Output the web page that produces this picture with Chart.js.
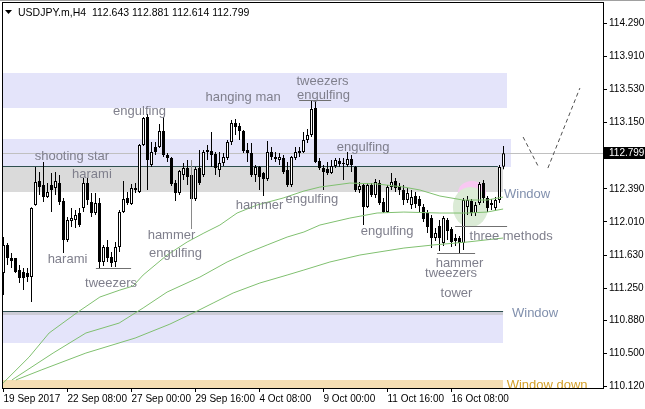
<!DOCTYPE html>
<html>
<head>
<meta charset="utf-8">
<script src="https://cdn.jsdelivr.net/npm/chart.js@4.4.1/dist/chart.umd.min.js"></script>
<style>
  html, body { margin: 0; padding: 0; background: #fff; }
  #wrap { width: 645px; height: 409px; }
</style>
</head>
<body>
<div id="wrap"><canvas id="chart" width="645" height="409"></canvas></div>
<script>
// USDJPY.m, H4 — one entry per bar, oldest first
const SYMBOL = 'USDJPY.m';
const PERIOD = 'H4';

const opens = [
  111.424, 111.746, 111.596, 111.596, 111.459, 111.436, 111.424, 111.378, 112.205, 112.480,
  112.434, 112.296, 112.434, 112.400, 112.457, 112.251, 111.803, 112.021, 112.033, 112.113,
  112.170, 112.457, 112.239, 112.113, 112.228, 111.551, 111.723, 111.608, 111.551, 111.723,
  112.124, 112.285, 112.216, 112.377, 112.354, 112.893, 113.214, 112.664, 112.870, 112.870,
  113.054, 112.778, 112.744, 112.457, 112.342, 112.549, 112.629, 112.549, 112.273, 112.629,
  112.549, 112.813, 112.824, 112.790, 112.606, 112.687, 112.744, 112.928, 113.145, 113.111,
  113.054, 112.836, 112.801, 112.549, 112.641, 112.572, 112.503, 112.813, 112.732, 112.721,
  112.744, 112.606, 112.434, 112.744, 112.824, 112.813, 112.951, 113.008, 113.318, 112.710,
  112.629, 112.618, 112.572, 112.652, 112.710, 112.675, 112.664, 112.732, 112.641, 112.377,
  112.434, 112.182, 112.434, 112.319, 112.457, 112.239, 112.124, 112.411, 112.480, 112.423,
  112.377, 112.262, 112.205, 112.308, 112.273, 112.182, 112.113, 112.055, 111.826, 111.964,
  111.769, 112.033, 111.929, 111.826, 111.826, 111.769, 112.182, 112.251, 112.113, 112.228,
  112.457, 112.285, 112.205, 112.170, 112.262, 112.643
];
const highs = [
  111.837, 111.769, 111.654, 111.596, 111.516, 111.482, 111.482, 112.180, 112.641, 112.583,
  112.698, 112.457, 112.572, 112.583, 112.549, 112.285, 112.067, 112.170, 112.147, 112.170,
  112.514, 112.514, 112.342, 112.342, 112.285, 111.746, 111.803, 111.665, 111.780, 112.147,
  112.480, 112.354, 112.446, 112.457, 112.905, 113.214, 113.249, 112.928, 112.928, 113.134,
  113.214, 112.801, 112.755, 112.492, 112.606, 112.687, 112.721, 112.664, 112.641, 112.836,
  112.836, 112.893, 113.042, 112.813, 112.813, 112.801, 112.951, 113.180, 113.191, 113.145,
  113.065, 112.916, 112.916, 112.664, 112.652, 112.583, 112.939, 112.870, 112.813, 112.801,
  112.778, 112.698, 112.767, 112.870, 112.870, 113.042, 113.077, 113.410, 113.410, 112.744,
  112.664, 112.698, 112.721, 112.744, 112.744, 112.744, 112.813, 112.778, 112.652, 112.469,
  112.446, 112.457, 112.457, 112.503, 112.492, 112.285, 112.434, 112.572, 112.514, 112.457,
  112.434, 112.400, 112.377, 112.354, 112.308, 112.216, 112.147, 112.090, 111.941, 112.033,
  112.078, 112.055, 111.952, 111.872, 111.849, 112.285, 112.308, 112.273, 112.239, 112.469,
  112.492, 112.308, 112.273, 112.296, 112.664, 112.881
];
const lows = [
  111.172, 111.516, 111.482, 111.424, 111.310, 111.229, 111.321, 111.092, 112.195, 112.319,
  112.239, 112.285, 112.124, 112.319, 112.205, 111.654, 111.780, 111.952, 111.941, 111.952,
  112.124, 112.205, 112.067, 112.090, 111.482, 111.505, 111.551, 111.493, 111.493, 111.665,
  112.113, 112.205, 112.205, 112.342, 112.342, 112.882, 112.377, 112.641, 112.778, 112.859,
  112.755, 112.698, 112.423, 112.251, 112.319, 112.492, 112.434, 112.147, 112.251, 112.434,
  112.526, 112.721, 112.641, 112.549, 112.526, 112.652, 112.721, 112.893, 113.008, 112.951,
  112.801, 112.698, 112.526, 112.469, 112.377, 112.308, 112.480, 112.721, 112.698, 112.664,
  112.560, 112.411, 112.411, 112.721, 112.755, 112.801, 112.916, 112.985, 112.687, 112.606,
  112.377, 112.549, 112.560, 112.629, 112.641, 112.492, 112.641, 112.583, 112.354, 112.342,
  111.975, 112.170, 112.296, 112.285, 112.205, 112.113, 112.113, 112.377, 112.354, 112.319,
  112.205, 112.228, 112.159, 112.170, 112.124, 112.010, 111.883, 111.711, 111.792, 111.677,
  111.734, 111.803, 111.723, 111.734, 111.654, 111.688, 112.090, 112.078, 112.078, 112.205,
  112.228, 112.124, 112.147, 112.136, 112.228, 112.614
];
const closes = [
  111.746, 111.596, 111.562, 111.436, 111.367, 111.367, 111.378, 112.170, 112.469, 112.411,
  112.296, 112.354, 112.377, 112.480, 112.239, 111.803, 112.033, 112.055, 112.090, 111.975,
  112.457, 112.262, 112.113, 112.228, 111.551, 111.723, 111.596, 111.539, 111.723, 112.124,
  112.273, 112.228, 112.400, 112.400, 112.893, 113.203, 112.721, 112.813, 112.813, 113.054,
  112.778, 112.744, 112.446, 112.342, 112.595, 112.629, 112.526, 112.273, 112.618, 112.457,
  112.813, 112.836, 112.778, 112.629, 112.687, 112.755, 112.928, 113.145, 113.100, 113.054,
  112.824, 112.801, 112.549, 112.641, 112.526, 112.503, 112.813, 112.755, 112.755, 112.755,
  112.583, 112.434, 112.755, 112.813, 112.801, 112.951, 113.008, 113.306, 112.698, 112.629,
  112.583, 112.572, 112.652, 112.721, 112.675, 112.687, 112.732, 112.664, 112.377, 112.423,
  112.182, 112.434, 112.319, 112.469, 112.228, 112.124, 112.411, 112.469, 112.400, 112.377,
  112.262, 112.342, 112.296, 112.216, 112.193, 112.044, 111.952, 111.826, 111.883, 111.826,
  112.055, 111.906, 111.780, 111.792, 111.769, 112.262, 112.262, 112.113, 112.205, 112.446,
  112.285, 112.170, 112.228, 112.262, 112.641, 112.799
];

// time axis: label text and the bar it sits on
const timeLabels = ['19 Sep 2017', '22 Sep 08:00', '27 Sep 00:00', '29 Sep 16:00',
  '4 Oct 08:00', '9 Oct 00:00', '11 Oct 16:00', '16 Oct 08:00'];
const timeLabelBars = [0, 16, 32, 48, 64, 80, 96, 112];

// price axis labels
const priceTicks = [110.12, 110.5, 110.88, 111.25, 111.63, 112.01, 112.39,
  113.15, 113.53, 113.91, 114.29];

// three moving averages (bar, price)
const maFastBars = [-0.1, 6.4, 11.4, 18.6, 24.1, 29.1, 32.4, 34.9, 40.9, 45.9, 50.1, 54.1,
  58.4, 63.4, 69.9, 75.1, 79.1, 86.6, 93.4, 100.1, 104.1, 109.1, 114.9, 120.9, 124.9];
const maFast = [110.162, 110.460, 110.736, 110.977, 111.149, 111.229, 111.275, 111.401,
  111.631, 111.780, 111.883, 111.975, 112.113, 112.205, 112.285, 112.365, 112.411, 112.457,
  112.446, 112.411, 112.377, 112.308, 112.262, 112.262, 112.296];
const maMidBars = [2.1, 12.4, 20.6, 28.9, 34.9, 40.9, 49.1, 55.9, 60.9, 65.9, 70.9, 75.1,
  79.1, 86.6, 93.4, 100.1, 109.1, 115.9, 120.9, 124.9];
const maMid = [110.197, 110.506, 110.736, 110.850, 111.023, 111.206, 111.378, 111.551,
  111.654, 111.746, 111.837, 111.895, 111.975, 112.055, 112.113, 112.124, 112.113, 112.113,
  112.124, 112.159];
const maSlowBars = [3.1, 9.4, 20.6, 32.9, 41.6, 48.4, 52.4, 57.4, 64.1, 70.9, 75.1, 81.6,
  89.1, 100.1, 107.4, 115.9, 124.9];
const maSlow = [110.197, 110.311, 110.506, 110.678, 110.838, 110.988, 111.080, 111.195,
  111.310, 111.401, 111.459, 111.551, 111.631, 111.711, 111.746, 111.780, 111.826];

// dashed projection in the chart-shift area
const projDownBars = [129.9, 133.9];
const projDown = [112.985, 112.629];
const projUpBars = [136.1, 144.1];
const projUp = [112.629, 113.547];

// rectangles and levels drawn on the chart (bars from/to, prices low/high)
const zones = [
  { kind: 'wheat',    from: -2, to: 124.9, low: 110.0,   high: 110.196 },
  { kind: 'lavender', from: -2, to: 124.9, low: 110.621, high: 110.943 },
  { kind: 'band',     from: -2, to: 124.9, low: 110.943, high: 110.975 },
  { kind: 'lavender', from: -2, to: 125.9, low: 113.321, high: 113.719 },
  { kind: 'lavender', from: -2, to: 126.9, low: 112.641, high: 112.962 },
  { kind: 'gray',     from: -2, to: 124.9, low: 112.357, high: 112.646 },
];
const levels = [
  { from: -2, to: 123.6, price: 112.658 },
  { from: -2, to: 124.9, price: 110.987 },
];
const ellipses = [
  { kind: 'pink',  bar: 117.1,  price: 112.342, rBars: 3.5, rPrice: 0.138 },
  { kind: 'green', bar: 116.75, price: 112.182, rBars: 4.4, rPrice: 0.23 },
];

// candlestick pattern labels
const patternLabels = [
  { text: 'shooting star', bar: 17.1,  price: 112.778 },
  { text: 'harami',        bar: 22.1,  price: 112.572 },
  { text: 'harami',        bar: 16.0,  price: 111.596 },
  { text: 'tweezers',      bar: 26.9,  price: 111.321 },
  { text: 'engulfing',     bar: 34.0,  price: 113.295 },
  { text: 'hammer',        bar: 42.0,  price: 111.872 },
  { text: 'engulfing',     bar: 43.0,  price: 111.665 },
  { text: 'hanging man',   bar: 59.9,  price: 113.455 },
  { text: 'tweezers',      bar: 79.75, price: 113.633 },
  { text: 'engulfing',     bar: 80.0,  price: 113.478 },
  { text: 'engulfing',     bar: 89.9,  price: 112.876 },
  { text: 'hammer',        bar: 64.0,  price: 112.210 },
  { text: 'engulfing',     bar: 77.1,  price: 112.279 },
  { text: 'engulfing',     bar: 95.9,  price: 111.918 },
  { text: 'hammer',        bar: 114.0, price: 111.551 },
  { text: 'tweezers',      bar: 111.9, price: 111.436 },
  { text: 'tower',         bar: 113.25, price: 111.201 },
  { text: 'three methods', bar: 126.9, price: 111.855 },
];
const windowLabels = [
  { text: 'Window',      bar: 130.9, price: 112.337, kind: 'window' },
  { text: 'Window',      bar: 132.9, price: 110.971, kind: 'window' },
  { text: 'Window down', bar: 135.9, price: 110.150, kind: 'down' },
];
// pattern marker lines: horizontal (bars from/to at price) and one vertical
const markerLines = [
  { from: 23.1,  to: 31.9,  price: 111.478 },
  { from: 73.9,  to: 81.9,  price: 113.406 },
  { from: 108.4, to: 117.9, price: 111.654 },
  { from: 112.9, to: 125.9, price: 111.964 },
];
const markerVertical = { bar: 46.9, from: 111.929, to: 112.721 };

// ---------- styles ----------
const GREEN = 'rgb(128,192,112)';
const ZONE_COLOR = {
  lavender: 'rgb(228,228,250)',
  gray: 'rgb(218,218,218)',
  band: 'rgb(204,204,214)',
  wheat: 'rgb(245,222,179)',
};
const ELLIPSE_COLOR = { pink: 'rgb(248,200,242)', green: 'rgb(219,235,214)' };
const TEXT_COLOR = { pattern: '#7f7f8c', window: '#8190ad', down: '#d4a02a' };
const FONT = '"Liberation Sans", Arial, sans-serif';

const bars = opens.map((_, i) => i);
const last = bars.length - 1;

const overlay = {
  id: 'overlay',
  beforeDatasetsDraw(chart) {
    const { ctx, chartArea: a, scales: { x, y } } = chart;
    ctx.save();
    ctx.beginPath();
    ctx.rect(a.left, a.top, a.right - a.left, a.bottom - a.top);
    ctx.clip();

    for (const z of zones) {
      const x0 = Math.round(x.getPixelForValue(z.from));
      const x1 = Math.round(x.getPixelForValue(z.to));
      const y0 = Math.round(y.getPixelForValue(z.high));
      const y1 = Math.round(y.getPixelForValue(z.low));
      ctx.fillStyle = ZONE_COLOR[z.kind];
      ctx.fillRect(x0, y0, x1 - x0, y1 - y0);
    }

    for (const e of ellipses) {
      const cx = x.getPixelForValue(e.bar);
      const cy = y.getPixelForValue(e.price);
      const rx = Math.abs(x.getPixelForValue(e.bar + e.rBars) - cx);
      const ry = Math.abs(y.getPixelForValue(e.price + e.rPrice) - cy);
      ctx.fillStyle = ELLIPSE_COLOR[e.kind];
      ctx.beginPath();
      ctx.ellipse(cx, cy, rx, ry, 0, 0, Math.PI * 2);
      ctx.fill();
    }

    // bid line
    const by = Math.round(y.getPixelForValue(closes[last])) + 0.5;
    ctx.strokeStyle = '#c0c0c0';
    ctx.lineWidth = 1;
    ctx.beginPath();
    ctx.moveTo(a.left, by);
    ctx.lineTo(a.right, by);
    ctx.stroke();

    ctx.strokeStyle = 'rgb(47,79,79)';
    for (const l of levels) {
      const ly = Math.round(y.getPixelForValue(l.price)) + 0.5;
      ctx.beginPath();
      ctx.moveTo(x.getPixelForValue(l.from), ly);
      ctx.lineTo(x.getPixelForValue(l.to), ly);
      ctx.stroke();
    }
    ctx.restore();
  },
  afterDatasetsDraw(chart) {
    const { ctx, scales: { x, y } } = chart;
    ctx.save();
    ctx.strokeStyle = '#707070';
    ctx.lineWidth = 1;
    for (const m of markerLines) {
      const my = Math.round(y.getPixelForValue(m.price)) + 0.5;
      ctx.beginPath();
      ctx.moveTo(x.getPixelForValue(m.from), my);
      ctx.lineTo(x.getPixelForValue(m.to), my);
      ctx.stroke();
    }
    const vx = Math.round(x.getPixelForValue(markerVertical.bar)) + 0.5;
    ctx.strokeStyle = '#8a8a8a';
    ctx.beginPath();
    ctx.moveTo(vx, y.getPixelForValue(markerVertical.to));
    ctx.lineTo(vx, y.getPixelForValue(markerVertical.from));
    ctx.stroke();

    ctx.font = '13px ' + FONT;
    ctx.textAlign = 'center';
    ctx.textBaseline = 'middle';
    ctx.fillStyle = TEXT_COLOR.pattern;
    for (const t of patternLabels) {
      ctx.fillText(t.text, x.getPixelForValue(t.bar), y.getPixelForValue(t.price) + 1);
    }
    for (const t of windowLabels) {
      ctx.fillStyle = TEXT_COLOR[t.kind];
      ctx.fillText(t.text, x.getPixelForValue(t.bar), y.getPixelForValue(t.price) + 1);
    }
    ctx.restore();
  },
  afterDraw(chart) {
    const { ctx, chartArea: a, scales: { y } } = chart;
    ctx.save();
    // window edge and chart frame
    ctx.fillStyle = '#a0a0a0';
    ctx.fillRect(0, 0, chart.width, 1);
    ctx.strokeStyle = '#000';
    ctx.lineWidth = 1;
    ctx.strokeRect(a.left - 0.5, a.top - 0.5, a.right - a.left + 1, a.bottom - a.top + 1);

    // current price tag
    const py = Math.round(y.getPixelForValue(closes[last]));
    ctx.fillStyle = '#000';
    ctx.fillRect(a.right + 1, py - 6, chart.width - a.right - 1, 12);
    ctx.fillStyle = '#fff';
    ctx.font = '10px ' + FONT;
    ctx.textBaseline = 'middle';
    ctx.textAlign = 'left';
    ctx.fillText(closes[last].toFixed(3), a.right + 6, py + 0.5);

    // title
    ctx.fillStyle = '#000';
    ctx.beginPath();
    ctx.moveTo(5, 10);
    ctx.lineTo(12, 10);
    ctx.lineTo(8.5, 14);
    ctx.closePath();
    ctx.fill();
    ctx.font = '10.5px ' + FONT;
    ctx.textBaseline = 'alphabetic';
    const ohlc = [opens[last], highs[last], lows[last], closes[last]].map((v) => v.toFixed(3)).join(' ');
    ctx.fillText(`${SYMBOL},${PERIOD}  ${ohlc}`, 18, 15.5);
    ctx.restore();
  },
};

function points(xs, ys) {
  return xs.map((b, k) => ({ x: b, y: ys[k] }));
}

function lineSet(data, color, dash) {
  return {
    type: 'line',
    data,
    borderColor: color,
    borderWidth: 1,
    borderDash: dash || [],
    pointRadius: 0,
    tension: 0,
    fill: false,
    order: 1,
  };
}

new Chart(document.getElementById('chart'), {
  type: 'bar',
  data: {
    datasets: [
      {
        data: bars.map((i) => ({ x: i, y: [opens[i], closes[i]] })),
        backgroundColor: bars.map((i) => (closes[i] >= opens[i] ? '#ffffff' : '#000000')),
        borderColor: '#000',
        borderWidth: 1,
        borderSkipped: false,
        inflateAmount: 0,
        grouped: false,
        categoryPercentage: 1,
        barPercentage: 0.75,
        order: 2,
      },
      {
        data: bars.map((i) => ({ x: i, y: [lows[i], highs[i]] })),
        backgroundColor: '#000',
        borderWidth: 0,
        inflateAmount: 0,
        grouped: false,
        categoryPercentage: 1,
        barPercentage: 0.25,
        order: 3,
      },
      lineSet(points(maFastBars, maFast), GREEN),
      lineSet(points(maMidBars, maMid), GREEN),
      lineSet(points(maSlowBars, maSlow), GREEN),
      lineSet(points(projDownBars, projDown), '#505050', [4, 3]),
      lineSet(points(projUpBars, projUp), '#505050', [4, 3]),
    ],
  },
  options: {
    responsive: false,
    animation: false,
    events: [],
    layout: { padding: { left: 3, top: 3, right: 0, bottom: 0 } },
    plugins: { legend: { display: false }, tooltip: { enabled: false } },
    scales: {
      x: {
        type: 'linear',
        min: -0.125,
        max: 149.875,
        offset: false,
        afterBuildTicks: (s) => { s.ticks = timeLabelBars.map((v) => ({ value: v })); },
        afterFit: (s) => { s.height = 21; s.paddingLeft = 0; s.paddingRight = 0; },
        ticks: {
          autoSkip: false,
          maxRotation: 0,
          align: 'start',
          padding: 1,
          color: '#000',
          font: { family: FONT, size: 10 },
          callback: (v, i) => timeLabels[i],
        },
        grid: { offset: false, drawOnChartArea: false, tickLength: 4, tickColor: '#000' },
        border: { display: false },
      },
      y: {
        type: 'linear',
        position: 'right',
        min: 110.105,
        max: 114.523,
        afterBuildTicks: (s) => { s.ticks = priceTicks.map((v) => ({ value: v })); },
        afterFit: (s) => { s.width = 42; s.paddingTop = 0; s.paddingBottom = 0; },
        ticks: {
          padding: 2,
          color: '#000',
          font: { family: FONT, size: 10 },
          callback: (v) => Number(v).toFixed(3),
        },
        grid: { drawOnChartArea: false, tickLength: 4, tickColor: '#000' },
        border: { display: false },
      },
    },
  },
  plugins: [overlay],
});
</script>
</body>
</html>
